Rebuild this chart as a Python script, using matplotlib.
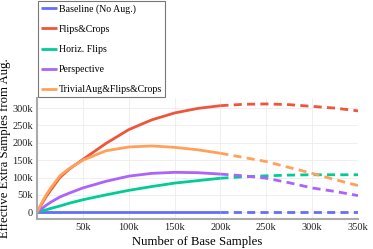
import numpy as np
from matplotlib import pyplot as plt

# base samples (k)
x_k = [0, 5, 10, 15, 25, 35, 50, 75, 100, 125, 150, 175, 200, 225, 250, 275, 300, 325, 350]

baseline = [0] * len(x_k)
flips_crops = [0, 23, 45, 64, 100, 124, 152, 198, 238, 266, 286, 299, 307, 311, 312, 310, 305, 300, 292]
horiz_flips = [0, 4, 7, 11, 18, 26, 36, 50, 63, 74, 84, 91, 98, 102, 105, 107, 108, 108, 108]
perspective = [0, 10, 20, 29, 44, 55, 70, 89, 104, 112, 115, 114, 110, 105, 98, 85, 70, 60, 48]
trivial_aug = [0, 26, 50, 70, 105, 126, 150, 177, 188, 191, 187, 180, 170, 158, 146, 129, 112, 94, 77]

labels = ['Baseline (No Aug.)', 'Flips&Crops', 'Horiz. Flips', 'Perspective',
          'TrivialAug&Flips&Crops']
series = [baseline, flips_crops, horiz_flips, perspective, trivial_aug]
colors = ['#636efa', '#EF553B', '#00cc96', '#ab63fa', '#FFA15A']

split_k = 200  # fitted range ends here, rest is extrapolation

plt.rcParams['font.family'] = ['Liberation Serif', 'DejaVu Serif']

fig = plt.figure(figsize=(3.73, 2.49), dpi=100)
ax = fig.add_axes([37 / 373, 1 - 218.5 / 249, 321 / 373, 120.8 / 249])

x = np.array(x_k) * 1000
fit = x <= split_k * 1000
ext = x >= split_k * 1000
handles = []
for vals, col, lab in zip(series, colors, labels):
    y = np.array(vals) * 1000
    h, = ax.plot(x[fit], y[fit], color=col, lw=2.0, label=lab, solid_capstyle='butt')
    ax.plot(x[ext], y[ext], color=col, lw=2.0, ls=(0, (2.9, 1.9)))
    handles.append(h)

ax.set_xlim(0, 350000)
ax.set_ylim(-18000, 330000)
ax.set_xticks([50000, 100000, 150000, 200000, 250000, 300000, 350000])
ax.set_xticklabels(['50k', '100k', '150k', '200k', '250k', '300k', '350k'])
ax.set_yticks([0, 50000, 100000, 150000, 200000, 250000, 300000])
ax.set_yticklabels(['0', '50k', '100k', '150k', '200k', '250k', '300k'])
ax.tick_params(length=0, labelsize=7.5, pad=3, colors='#222222')
ax.grid(color='#ececec', lw=0.6)
ax.set_axisbelow(True)
for s in ['top', 'right']:
    ax.spines[s].set_visible(False)
for s in ['left', 'bottom']:
    ax.spines[s].set_color('#aaaaaa')
    ax.spines[s].set_linewidth(1.5)

ax.set_xlabel('Number of Base Samples', fontsize=9.2, labelpad=3)
ax.set_ylabel('Effective Extra Samples from Aug.', fontsize=9.2)
ax.yaxis.set_label_coords(-0.082, 0.58)

leg = fig.legend(handles=handles, loc='lower left',
                 bbox_to_anchor=(38 / 373, 1 - 97 / 249), bbox_transform=fig.transFigure,
                 fontsize=7.1, frameon=True, fancybox=False, borderaxespad=0,
                 handlelength=1.6, handletextpad=0.25, labelspacing=1.12,
                 borderpad=0.3)
leg.get_frame().set_edgecolor('#555555')
leg.get_frame().set_linewidth(0.8)

fig.savefig('out.png', dpi=100)
